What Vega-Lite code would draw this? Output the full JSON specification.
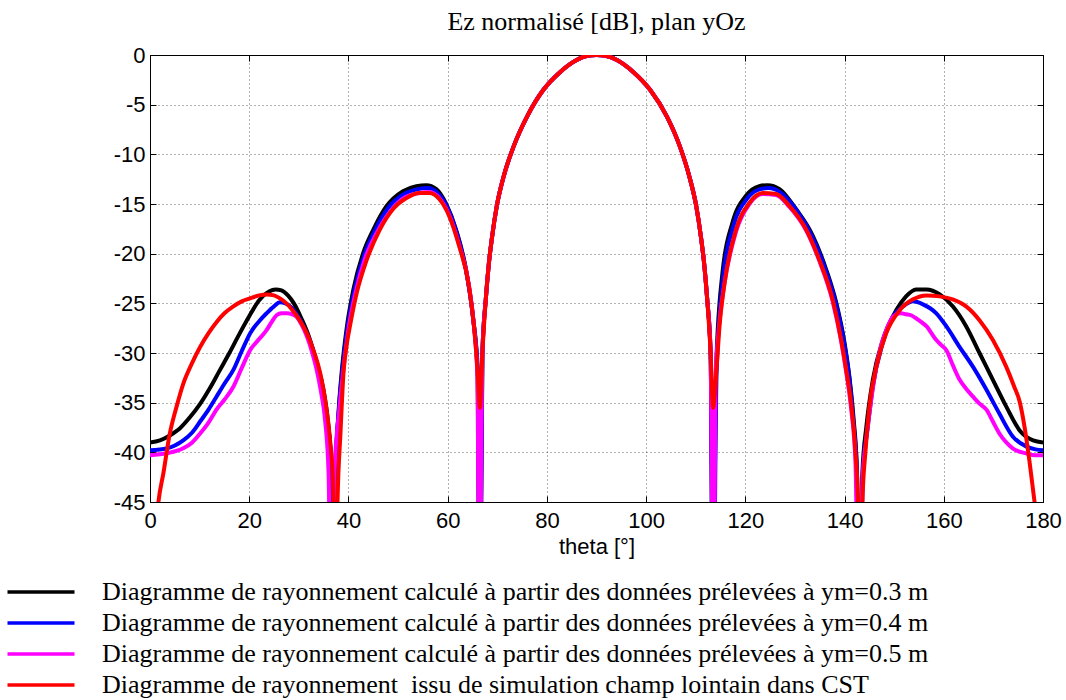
{
"$schema":"https://vega.github.io/schema/vega-lite/v6.json",
"width":893,"height":447,
"autosize":{"type":"none"},
"padding":{"left":150,"top":55,"right":23,"bottom":198},
"background":"white",
"config":{"view":{"stroke":"#000","strokeWidth":1},"font":"Liberation Sans"},
"title":{"text":"Ez normalisé [dB], plan yOz","font":"Liberation Serif","fontSize":26,"fontWeight":"normal","color":"#000","anchor":"middle","offset":9},
"data":{"values":[
{"s":"0.3","t":0,"v":-39.0},{"s":"0.3","t":2,"v":-38.8},{"s":"0.3","t":4,"v":-38.3},{"s":"0.3","t":6,"v":-37.6},{"s":"0.3","t":8,"v":-36.5},{"s":"0.3","t":10,"v":-35.2},{"s":"0.3","t":12,"v":-33.6},{"s":"0.3","t":14,"v":-31.8},{"s":"0.3","t":16,"v":-30.0},{"s":"0.3","t":18,"v":-28.1},{"s":"0.3","t":20,"v":-26.3},{"s":"0.3","t":22,"v":-24.7},{"s":"0.3","t":24,"v":-23.8},{"s":"0.3","t":25.3,"v":-23.6},{"s":"0.3","t":26.5,"v":-23.7},{"s":"0.3","t":27.8,"v":-24.2},{"s":"0.3","t":29,"v":-25.0},{"s":"0.3","t":30.5,"v":-26.5},{"s":"0.3","t":32,"v":-28.3},{"s":"0.3","t":33.5,"v":-30.8},{"s":"0.3","t":35,"v":-33.8},{"s":"0.3","t":36,"v":-37.5},{"s":"0.3","t":36.5,"v":-41},{"s":"0.3","t":36.9,"v":-60},{"s":"0.3","t":37.4,"v":-42},{"s":"0.3","t":38,"v":-36},{"s":"0.3","t":38.7,"v":-31.6},{"s":"0.3","t":39.7,"v":-27.3},{"s":"0.3","t":41,"v":-23.6},{"s":"0.3","t":43,"v":-19.9},{"s":"0.3","t":45,"v":-17.6},{"s":"0.3","t":47.7,"v":-15.2},{"s":"0.3","t":51,"v":-13.7},{"s":"0.3","t":53.7,"v":-13.2},{"s":"0.3","t":55.7,"v":-13.1},{"s":"0.3","t":57.7,"v":-13.5},{"s":"0.3","t":59.7,"v":-15.0},{"s":"0.3","t":61.7,"v":-17.6},{"s":"0.3","t":63.7,"v":-21.6},{"s":"0.3","t":65,"v":-26.0},{"s":"0.3","t":66,"v":-31.6},{"s":"0.3","t":66.5,"v":-60},{"s":"0.3","t":67.0,"v":-30.0},{"s":"0.3","t":67.7,"v":-24.5},{"s":"0.3","t":68.3,"v":-21.0},{"s":"0.3","t":68.9,"v":-18.5},{"s":"0.3","t":69.9,"v":-15.2},{"s":"0.3","t":71.3,"v":-12.2},{"s":"0.3","t":73.3,"v":-9.2},{"s":"0.3","t":76.0,"v":-6.2},{"s":"0.3","t":79.3,"v":-3.5},{"s":"0.3","t":82.7,"v":-1.7},{"s":"0.3","t":86.0,"v":-0.5},{"s":"0.3","t":88.0,"v":-0.1},{"s":"0.3","t":90.0,"v":0},{"s":"0.3","t":92.0,"v":-0.1},{"s":"0.3","t":94.1,"v":-0.5},{"s":"0.3","t":97.4,"v":-1.7},{"s":"0.3","t":100.8,"v":-3.5},{"s":"0.3","t":104.2,"v":-6.2},{"s":"0.3","t":106.8,"v":-9.2},{"s":"0.3","t":108.7,"v":-12.2},{"s":"0.3","t":110.1,"v":-15.2},{"s":"0.3","t":111.1,"v":-18.5},{"s":"0.3","t":111.7,"v":-21.0},{"s":"0.3","t":112.3,"v":-24.5},{"s":"0.3","t":113.0,"v":-30.0},{"s":"0.3","t":113.5,"v":-60},{"s":"0.3","t":114.1,"v":-31.6},{"s":"0.3","t":115.4,"v":-21.9},{"s":"0.3","t":117.4,"v":-16.9},{"s":"0.3","t":120.1,"v":-14.2},{"s":"0.3","t":122.8,"v":-13.2},{"s":"0.3","t":124.5,"v":-13.1},{"s":"0.3","t":126.9,"v":-13.5},{"s":"0.3","t":130.2,"v":-15.5},{"s":"0.3","t":133.6,"v":-18.2},{"s":"0.3","t":136.3,"v":-21.6},{"s":"0.3","t":138.3,"v":-24.9},{"s":"0.3","t":140,"v":-29.0},{"s":"0.3","t":141,"v":-32.5},{"s":"0.3","t":141.8,"v":-36.5},{"s":"0.3","t":142.5,"v":-42},{"s":"0.3","t":143.0,"v":-60},{"s":"0.3","t":143.6,"v":-42},{"s":"0.3","t":144.4,"v":-37.4},{"s":"0.3","t":145.7,"v":-32.7},{"s":"0.3","t":147.7,"v":-28.7},{"s":"0.3","t":150.4,"v":-25.7},{"s":"0.3","t":152.4,"v":-24.3},{"s":"0.3","t":154.4,"v":-23.6},{"s":"0.3","t":156.5,"v":-23.6},{"s":"0.3","t":159.2,"v":-24.1},{"s":"0.3","t":161.8,"v":-25.3},{"s":"0.3","t":164.5,"v":-27.3},{"s":"0.3","t":167.2,"v":-30.0},{"s":"0.3","t":169.9,"v":-32.7},{"s":"0.3","t":172.6,"v":-35.4},{"s":"0.3","t":175.3,"v":-37.8},{"s":"0.3","t":178,"v":-38.8},{"s":"0.3","t":180,"v":-39.0},
{"s":"0.4","t":0,"v":-39.8},{"s":"0.4","t":3.4,"v":-39.6},{"s":"0.4","t":6.7,"v":-38.8},{"s":"0.4","t":8.5,"v":-38.0},{"s":"0.4","t":10.1,"v":-36.9},{"s":"0.4","t":11.8,"v":-35.7},{"s":"0.4","t":13.4,"v":-34.4},{"s":"0.4","t":15,"v":-33.1},{"s":"0.4","t":16.8,"v":-31.7},{"s":"0.4","t":18.5,"v":-29.8},{"s":"0.4","t":20.2,"v":-28.0},{"s":"0.4","t":22,"v":-26.8},{"s":"0.4","t":23.5,"v":-26.0},{"s":"0.4","t":25,"v":-25.3},{"s":"0.4","t":26.2,"v":-24.9},{"s":"0.4","t":27.3,"v":-25.0},{"s":"0.4","t":28.5,"v":-25.4},{"s":"0.4","t":30.3,"v":-26.7},{"s":"0.4","t":31.6,"v":-28.0},{"s":"0.4","t":32.9,"v":-29.7},{"s":"0.4","t":34,"v":-31.7},{"s":"0.4","t":35,"v":-34.1},{"s":"0.4","t":35.8,"v":-37},{"s":"0.4","t":36.3,"v":-39.4},{"s":"0.4","t":36.8,"v":-60},{"s":"0.4","t":37.4,"v":-42},{"s":"0.4","t":38.1,"v":-35.5},{"s":"0.4","t":38.8,"v":-31.6},{"s":"0.4","t":39.8,"v":-27.5},{"s":"0.4","t":41.2,"v":-23.7},{"s":"0.4","t":43.2,"v":-20.1},{"s":"0.4","t":45.2,"v":-17.8},{"s":"0.4","t":48,"v":-15.4},{"s":"0.4","t":51.2,"v":-14.0},{"s":"0.4","t":54,"v":-13.5},{"s":"0.4","t":56,"v":-13.4},{"s":"0.4","t":58,"v":-13.9},{"s":"0.4","t":60,"v":-15.4},{"s":"0.4","t":62,"v":-18.2},{"s":"0.4","t":64,"v":-22.5},{"s":"0.4","t":65.2,"v":-26.8},{"s":"0.4","t":66.1,"v":-32},{"s":"0.4","t":66.5,"v":-60},{"s":"0.4","t":67.0,"v":-30.0},{"s":"0.4","t":67.7,"v":-24.5},{"s":"0.4","t":68.3,"v":-21.0},{"s":"0.4","t":68.9,"v":-18.5},{"s":"0.4","t":69.9,"v":-15.2},{"s":"0.4","t":71.3,"v":-12.2},{"s":"0.4","t":73.3,"v":-9.2},{"s":"0.4","t":76.0,"v":-6.2},{"s":"0.4","t":79.3,"v":-3.5},{"s":"0.4","t":82.7,"v":-1.7},{"s":"0.4","t":86.0,"v":-0.5},{"s":"0.4","t":88.0,"v":-0.1},{"s":"0.4","t":90.0,"v":0},{"s":"0.4","t":92.0,"v":-0.1},{"s":"0.4","t":94.1,"v":-0.5},{"s":"0.4","t":97.4,"v":-1.7},{"s":"0.4","t":100.8,"v":-3.5},{"s":"0.4","t":104.2,"v":-6.2},{"s":"0.4","t":106.8,"v":-9.2},{"s":"0.4","t":108.7,"v":-12.2},{"s":"0.4","t":110.1,"v":-15.2},{"s":"0.4","t":111.1,"v":-18.5},{"s":"0.4","t":111.7,"v":-21.0},{"s":"0.4","t":112.3,"v":-24.5},{"s":"0.4","t":113.0,"v":-30.0},{"s":"0.4","t":113.5,"v":-60},{"s":"0.4","t":114.2,"v":-32},{"s":"0.4","t":115.5,"v":-22.4},{"s":"0.4","t":117.6,"v":-17.2},{"s":"0.4","t":120.3,"v":-14.5},{"s":"0.4","t":123,"v":-13.5},{"s":"0.4","t":124.7,"v":-13.4},{"s":"0.4","t":127,"v":-13.8},{"s":"0.4","t":130.3,"v":-15.6},{"s":"0.4","t":133.6,"v":-18.4},{"s":"0.4","t":136.3,"v":-21.8},{"s":"0.4","t":138.3,"v":-25.1},{"s":"0.4","t":140,"v":-29.2},{"s":"0.4","t":141,"v":-32.7},{"s":"0.4","t":141.8,"v":-37},{"s":"0.4","t":142.5,"v":-42},{"s":"0.4","t":143.0,"v":-60},{"s":"0.4","t":143.7,"v":-42},{"s":"0.4","t":144.7,"v":-37.4},{"s":"0.4","t":145.7,"v":-33.4},{"s":"0.4","t":147.7,"v":-29.0},{"s":"0.4","t":149.8,"v":-26.3},{"s":"0.4","t":151.8,"v":-25.3},{"s":"0.4","t":153.8,"v":-24.8},{"s":"0.4","t":155.8,"v":-25.1},{"s":"0.4","t":158.5,"v":-26.0},{"s":"0.4","t":160.5,"v":-27.3},{"s":"0.4","t":163.2,"v":-29.4},{"s":"0.4","t":165.9,"v":-31.4},{"s":"0.4","t":168.6,"v":-33.7},{"s":"0.4","t":171.2,"v":-36.1},{"s":"0.4","t":173.9,"v":-38.4},{"s":"0.4","t":176.6,"v":-39.4},{"s":"0.4","t":178.5,"v":-39.7},{"s":"0.4","t":180,"v":-39.8},
{"s":"0.5","t":0,"v":-40.3},{"s":"0.5","t":3.4,"v":-40.1},{"s":"0.5","t":6.7,"v":-39.6},{"s":"0.5","t":8.5,"v":-39.0},{"s":"0.5","t":10.1,"v":-38.1},{"s":"0.5","t":11.8,"v":-37.0},{"s":"0.5","t":13.4,"v":-35.7},{"s":"0.5","t":15,"v":-34.7},{"s":"0.5","t":16.8,"v":-33.4},{"s":"0.5","t":18.5,"v":-31.5},{"s":"0.5","t":20.2,"v":-29.7},{"s":"0.5","t":22,"v":-28.6},{"s":"0.5","t":23.5,"v":-27.7},{"s":"0.5","t":24.5,"v":-26.9},{"s":"0.5","t":25.5,"v":-26.2},{"s":"0.5","t":26.5,"v":-26.0},{"s":"0.5","t":27.6,"v":-26.0},{"s":"0.5","t":28.6,"v":-26.1},{"s":"0.5","t":29.6,"v":-26.4},{"s":"0.5","t":30.6,"v":-27.2},{"s":"0.5","t":31.6,"v":-28.3},{"s":"0.5","t":32.6,"v":-29.8},{"s":"0.5","t":33.6,"v":-31.7},{"s":"0.5","t":34.5,"v":-34.0},{"s":"0.5","t":35.3,"v":-36.8},{"s":"0.5","t":36.0,"v":-42.1},{"s":"0.5","t":36.5,"v":-60},{"s":"0.5","t":37.2,"v":-42},{"s":"0.5","t":38.2,"v":-35.5},{"s":"0.5","t":39,"v":-31.6},{"s":"0.5","t":40,"v":-27.6},{"s":"0.5","t":41.4,"v":-24.0},{"s":"0.5","t":43.4,"v":-20.4},{"s":"0.5","t":45.6,"v":-18.0},{"s":"0.5","t":48.5,"v":-15.7},{"s":"0.5","t":51.5,"v":-14.3},{"s":"0.5","t":54.3,"v":-13.9},{"s":"0.5","t":56.3,"v":-13.8},{"s":"0.5","t":58.3,"v":-14.4},{"s":"0.5","t":60.3,"v":-16.1},{"s":"0.5","t":62.3,"v":-19.1},{"s":"0.5","t":64.3,"v":-23.2},{"s":"0.5","t":65.3,"v":-27.3},{"s":"0.5","t":66.0,"v":-32.5},{"s":"0.5","t":66.4,"v":-60},{"s":"0.5","t":67.0,"v":-30.0},{"s":"0.5","t":67.7,"v":-24.5},{"s":"0.5","t":68.3,"v":-21.0},{"s":"0.5","t":68.9,"v":-18.5},{"s":"0.5","t":69.9,"v":-15.2},{"s":"0.5","t":71.3,"v":-12.2},{"s":"0.5","t":73.3,"v":-9.2},{"s":"0.5","t":76.0,"v":-6.2},{"s":"0.5","t":79.3,"v":-3.5},{"s":"0.5","t":82.7,"v":-1.7},{"s":"0.5","t":86.0,"v":-0.5},{"s":"0.5","t":88.0,"v":-0.1},{"s":"0.5","t":90.0,"v":0},{"s":"0.5","t":92.0,"v":-0.1},{"s":"0.5","t":94.1,"v":-0.5},{"s":"0.5","t":97.4,"v":-1.7},{"s":"0.5","t":100.8,"v":-3.5},{"s":"0.5","t":104.2,"v":-6.2},{"s":"0.5","t":106.8,"v":-9.2},{"s":"0.5","t":108.7,"v":-12.2},{"s":"0.5","t":110.1,"v":-15.2},{"s":"0.5","t":111.1,"v":-18.5},{"s":"0.5","t":111.7,"v":-21.0},{"s":"0.5","t":112.3,"v":-24.5},{"s":"0.5","t":113.0,"v":-30.0},{"s":"0.5","t":113.6,"v":-60},{"s":"0.5","t":114.0,"v":-32.5},{"s":"0.5","t":114.7,"v":-27.3},{"s":"0.5","t":115.8,"v":-23.0},{"s":"0.5","t":118.1,"v":-17.8},{"s":"0.5","t":120.8,"v":-15.0},{"s":"0.5","t":123.5,"v":-14.0},{"s":"0.5","t":126.2,"v":-14.1},{"s":"0.5","t":128.9,"v":-15.3},{"s":"0.5","t":132.3,"v":-17.7},{"s":"0.5","t":134.9,"v":-20.7},{"s":"0.5","t":137.6,"v":-24.8},{"s":"0.5","t":139.3,"v":-28.8},{"s":"0.5","t":140.3,"v":-31.8},{"s":"0.5","t":141.3,"v":-35.5},{"s":"0.5","t":142.2,"v":-41},{"s":"0.5","t":142.9,"v":-60},{"s":"0.5","t":143.6,"v":-43},{"s":"0.5","t":144.3,"v":-39},{"s":"0.5","t":145.0,"v":-36.1},{"s":"0.5","t":146.4,"v":-31.4},{"s":"0.5","t":147.4,"v":-29.2},{"s":"0.5","t":148.4,"v":-27.7},{"s":"0.5","t":149.4,"v":-26.6},{"s":"0.5","t":150.4,"v":-26.1},{"s":"0.5","t":151.4,"v":-26.0},{"s":"0.5","t":152.4,"v":-26.1},{"s":"0.5","t":153.4,"v":-26.2},{"s":"0.5","t":154.4,"v":-26.5},{"s":"0.5","t":155.5,"v":-26.9},{"s":"0.5","t":156.5,"v":-27.3},{"s":"0.5","t":157.5,"v":-28.0},{"s":"0.5","t":158.5,"v":-28.7},{"s":"0.5","t":159.5,"v":-29.2},{"s":"0.5","t":160.5,"v":-29.7},{"s":"0.5","t":161.8,"v":-31.2},{"s":"0.5","t":163.2,"v":-32.7},{"s":"0.5","t":164.5,"v":-33.6},{"s":"0.5","t":165.9,"v":-34.4},{"s":"0.5","t":167.2,"v":-35.1},{"s":"0.5","t":168.6,"v":-35.7},{"s":"0.5","t":169.9,"v":-36.9},{"s":"0.5","t":171.2,"v":-38.1},{"s":"0.5","t":172.6,"v":-39.0},{"s":"0.5","t":173.9,"v":-39.6},{"s":"0.5","t":176.6,"v":-40.1},{"s":"0.5","t":178.5,"v":-40.3},{"s":"0.5","t":180,"v":-40.3},
{"s":"CST","t":0,"v":-53},{"s":"CST","t":1,"v":-49},{"s":"CST","t":1.7,"v":-45},{"s":"CST","t":2.7,"v":-42.1},{"s":"CST","t":4.0,"v":-38.1},{"s":"CST","t":5.3,"v":-35.5},{"s":"CST","t":6.7,"v":-33.1},{"s":"CST","t":8.4,"v":-31.1},{"s":"CST","t":10.1,"v":-29.4},{"s":"CST","t":11.8,"v":-28.0},{"s":"CST","t":13.4,"v":-26.9},{"s":"CST","t":15,"v":-26.0},{"s":"CST","t":16.8,"v":-25.3},{"s":"CST","t":18.5,"v":-24.8},{"s":"CST","t":20.2,"v":-24.5},{"s":"CST","t":22,"v":-24.2},{"s":"CST","t":23.5,"v":-24.1},{"s":"CST","t":25,"v":-24.2},{"s":"CST","t":26.2,"v":-24.5},{"s":"CST","t":27.5,"v":-25.0},{"s":"CST","t":28.9,"v":-25.8},{"s":"CST","t":30.3,"v":-26.8},{"s":"CST","t":31.6,"v":-28.0},{"s":"CST","t":33,"v":-29.8},{"s":"CST","t":34.3,"v":-32.0},{"s":"CST","t":35.4,"v":-35.0},{"s":"CST","t":36.3,"v":-38.8},{"s":"CST","t":36.9,"v":-43},{"s":"CST","t":37.3,"v":-60},{"s":"CST","t":37.8,"v":-45},{"s":"CST","t":38.4,"v":-38},{"s":"CST","t":39,"v":-32},{"s":"CST","t":39.7,"v":-29},{"s":"CST","t":40.3,"v":-27.3},{"s":"CST","t":41.7,"v":-23.9},{"s":"CST","t":43.7,"v":-20.6},{"s":"CST","t":46.3,"v":-17.6},{"s":"CST","t":49,"v":-15.5},{"s":"CST","t":51.7,"v":-14.4},{"s":"CST","t":54.3,"v":-13.9},{"s":"CST","t":56.3,"v":-13.9},{"s":"CST","t":58.3,"v":-14.5},{"s":"CST","t":60.3,"v":-16.2},{"s":"CST","t":62.3,"v":-19.2},{"s":"CST","t":64.3,"v":-23.3},{"s":"CST","t":65.3,"v":-27.3},{"s":"CST","t":66,"v":-31.6},{"s":"CST","t":66.5,"v":-35.5},{"s":"CST","t":67.0,"v":-30.0},{"s":"CST","t":67.7,"v":-24.5},{"s":"CST","t":68.3,"v":-21.0},{"s":"CST","t":68.9,"v":-18.5},{"s":"CST","t":69.9,"v":-15.2},{"s":"CST","t":71.3,"v":-12.2},{"s":"CST","t":73.3,"v":-9.2},{"s":"CST","t":76.0,"v":-6.2},{"s":"CST","t":79.3,"v":-3.5},{"s":"CST","t":82.7,"v":-1.7},{"s":"CST","t":86.0,"v":-0.5},{"s":"CST","t":88.0,"v":-0.1},{"s":"CST","t":90.0,"v":0},{"s":"CST","t":92.0,"v":-0.1},{"s":"CST","t":94.1,"v":-0.5},{"s":"CST","t":97.4,"v":-1.7},{"s":"CST","t":100.8,"v":-3.5},{"s":"CST","t":104.2,"v":-6.2},{"s":"CST","t":106.8,"v":-9.2},{"s":"CST","t":108.7,"v":-12.2},{"s":"CST","t":110.1,"v":-15.2},{"s":"CST","t":111.1,"v":-18.5},{"s":"CST","t":111.7,"v":-21.0},{"s":"CST","t":112.3,"v":-24.5},{"s":"CST","t":113.0,"v":-30.0},{"s":"CST","t":113.5,"v":-35.5},{"s":"CST","t":114.2,"v":-31.6},{"s":"CST","t":114.8,"v":-27.3},{"s":"CST","t":115.8,"v":-23.0},{"s":"CST","t":118.1,"v":-17.6},{"s":"CST","t":120.8,"v":-14.9},{"s":"CST","t":123.5,"v":-13.9},{"s":"CST","t":126.2,"v":-14.0},{"s":"CST","t":128.9,"v":-15.2},{"s":"CST","t":132.3,"v":-17.6},{"s":"CST","t":134.9,"v":-20.6},{"s":"CST","t":137.6,"v":-24.6},{"s":"CST","t":139.3,"v":-28.6},{"s":"CST","t":140.3,"v":-31.6},{"s":"CST","t":141.3,"v":-35},{"s":"CST","t":142.2,"v":-40},{"s":"CST","t":142.7,"v":-45},{"s":"CST","t":143.1,"v":-60},{"s":"CST","t":143.6,"v":-45},{"s":"CST","t":144.2,"v":-40},{"s":"CST","t":145.0,"v":-35.4},{"s":"CST","t":146.4,"v":-31.4},{"s":"CST","t":148.4,"v":-28.0},{"s":"CST","t":151.1,"v":-25.7},{"s":"CST","t":153.8,"v":-24.6},{"s":"CST","t":156.5,"v":-24.2},{"s":"CST","t":159.2,"v":-24.3},{"s":"CST","t":161.8,"v":-24.6},{"s":"CST","t":164.5,"v":-25.3},{"s":"CST","t":167.2,"v":-26.7},{"s":"CST","t":169.9,"v":-28.7},{"s":"CST","t":172.6,"v":-31.4},{"s":"CST","t":174.2,"v":-33.4},{"s":"CST","t":175.3,"v":-34.9},{"s":"CST","t":176.3,"v":-37.5},{"s":"CST","t":177.3,"v":-41},{"s":"CST","t":178.3,"v":-45},{"s":"CST","t":179.2,"v":-49},{"s":"CST","t":180,"v":-53}
]},
"encoding":{
"color":{"field":"s","type":"nominal","scale":{"domain":["0.3","0.4","0.5","CST"],"range":["#000000","#0000ff","#ff00ff","#ff0000"]},
"legend":{"orient":"none","legendX":-122,"legendY":524,"direction":"vertical","title":null,"symbolType":"M-6.7,0H6.7","symbolSize":100,"symbolStrokeWidth":3.5,"labelFont":"Liberation Serif","labelFontSize":26,"labelColor":"#000","labelLimit":1000,"labelOffset":48,"rowPadding":5,
"labelExpr":"datum.label == 'CST' ? 'Diagramme de rayonnement\u00a0 issu de simulation champ lointain dans CST' : 'Diagramme de rayonnement calculé à partir des données prélevées à ym=' + datum.label + ' m'"}}
},
"layer":[
{"transform":[{"filter":"datum.s == '0.3'"}],
"mark":{"type":"line","strokeWidth":4,"clip":true,"interpolate":"monotone"},
"encoding":{
"x":{"field":"t","type":"quantitative","scale":{"domain":[0,180],"nice":false,"zero":false},
"axis":{"values":[0,20,40,60,80,100,120,140,160,180],"grid":true,"gridColor":"#000","gridDash":[1,3],"gridOpacity":0.6,"domainColor":"#000","tickColor":"#000","tickSize":-6,"labelFont":"Liberation Sans","labelFontSize":22,"labelColor":"#000","labelPadding":14,"labelFlush":false,"labelOverlap":false,"title":"theta [°]","titleFont":"Liberation Sans","titleFontSize":22,"titleFontWeight":"normal","titleColor":"#000","titlePadding":5}},
"y":{"field":"v","type":"quantitative","scale":{"domain":[-45,0],"nice":false,"zero":false},
"axis":{"values":[-45,-40,-35,-30,-25,-20,-15,-10,-5,0],"labelExpr":"datum.value + ''","grid":true,"gridColor":"#000","gridDash":[1,3],"gridOpacity":0.6,"domainColor":"#000","tickColor":"#000","tickSize":-6,"labelFont":"Liberation Sans","labelFontSize":22,"labelColor":"#000","labelPadding":11,"labelFlush":false,"labelOverlap":false,"title":null}}}},
{"transform":[{"filter":"datum.s == '0.4'"}],
"mark":{"type":"line","strokeWidth":4,"clip":true,"interpolate":"monotone"},
"encoding":{"x":{"field":"t","type":"quantitative","axis":null},"y":{"field":"v","type":"quantitative","axis":null}}},
{"transform":[{"filter":"datum.s == '0.5'"}],
"mark":{"type":"line","strokeWidth":4,"clip":true,"interpolate":"monotone"},
"encoding":{"x":{"field":"t","type":"quantitative","axis":null},"y":{"field":"v","type":"quantitative","axis":null}}},
{"transform":[{"filter":"datum.s == 'CST'"}],
"mark":{"type":"line","strokeWidth":4,"clip":true,"interpolate":"monotone"},
"encoding":{"x":{"field":"t","type":"quantitative","axis":{"orient":"top","values":[0,20,40,60,80,100,120,140,160,180],"labels":false,"grid":false,"domain":false,"tickColor":"#000","tickSize":-6,"title":null}},
"y":{"field":"v","type":"quantitative","axis":{"orient":"right","values":[-45,-40,-35,-30,-25,-20,-15,-10,-5,0],"labels":false,"grid":false,"domain":false,"tickColor":"#000","tickSize":-6,"title":null}}}}
],
"resolve":{"axis":{"x":"independent","y":"independent"}}
}
